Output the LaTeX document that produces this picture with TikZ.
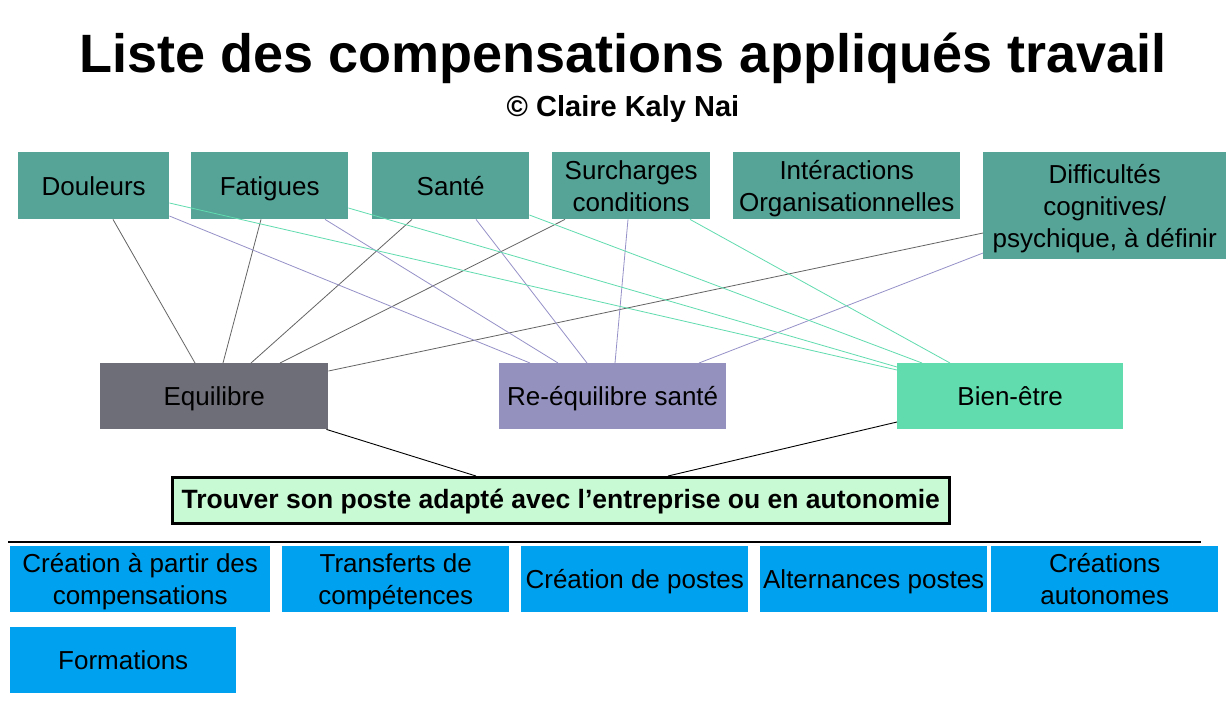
\documentclass[tikz,border=0pt]{standalone}
\usepackage{fontspec}
\setmainfont{Liberation Sans}
\usetikzlibrary{calc}
\definecolor{topc}{RGB}{86,163,152}
\definecolor{equc}{RGB}{110,110,120}
\definecolor{reqc}{RGB}{148,145,190}
\definecolor{biec}{RGB}{96,220,175}
\definecolor{troc}{RGB}{200,250,212}
\definecolor{bluc}{RGB}{0,162,240}
\definecolor{grayl}{RGB}{100,100,100}
\definecolor{purl}{RGB}{150,145,200}
\definecolor{greenl}{RGB}{96,220,175}
\newcommand{\sline}{\rule[-6pt]{0pt}{31pt}}
\newcommand{\tline}{\rule[-7pt]{0pt}{30pt}}
\begin{document}
\begin{tikzpicture}[x=1pt,y=-1pt,
  box/.style={anchor=north west, inner sep=0pt, align=center, text=black,
    font=\fontsize{26}{32}\selectfont},
  topbox/.style={box, fill=topc, minimum height=67pt},
  midbox/.style={box, minimum width=227pt, minimum height=66pt},
  blubox/.style={box, fill=bluc, minimum height=66pt},
  gl/.style={draw=grayl, line width=0.8pt},
  pl/.style={draw=purl, line width=0.8pt},
  ml/.style={draw=greenl, line width=0.8pt},
  bl/.style={draw=black, line width=0.9pt}]
\useasboundingbox (0,0) rectangle (1230,702);
\fill[white] (0,0) rectangle (1230,702);

% titles
\node[anchor=base, font=\fontsize{54}{60}\selectfont\bfseries] (title) at (623,72) {Liste des compensations appliqués travail};
\node[anchor=base, font=\fontsize{29}{32}\selectfont\bfseries] (sub) at (623,116) {© Claire Kaly Nai};

% top boxes
\node[topbox, minimum width=151pt] (dou) at (18,152) {\sline Douleurs};
\node[topbox, minimum width=157pt] (fat) at (191,152) {\sline Fatigues};
\node[topbox, minimum width=157pt] (san) at (372,152) {\sline Santé};
\node[topbox, minimum width=158pt] (sur) at (552,152) {\sline Surcharges\\\sline conditions};
\node[topbox, minimum width=227pt] (int) at (733,152) {\sline Intéractions\\\sline Organisationnelles};
\node[topbox, minimum width=243pt, minimum height=107pt] (dif) at (983,152) {\sline Difficultés\\\sline cognitives/\\\sline psychique, à définir};

% middle boxes
\node[midbox, fill=equc, minimum width=228pt] (equ) at (100,363) {\sline Equilibre};
\node[midbox, fill=reqc] (req) at (499,363) {\sline Re-équilibre santé};
\node[midbox, fill=biec, minimum width=226pt] (bie) at (897,363) {\sline Bien-être};

% central box
\node[anchor=north west, inner sep=0pt, minimum width=777pt, minimum height=46pt,
  fill=troc, draw=black, line width=2.5pt,
  font=\fontsize{26.5}{30}\selectfont\bfseries] (tro) at (171,476)
  {\tline Trouver son poste adapté avec l’entreprise ou en autonomie};

% separator
\coordinate (sepL) at (8,542);
\coordinate (sepR) at (1201,542);
\draw[line width=2.6pt, black] (sepL) -- (sepR);

% bottom boxes
\node[blubox, minimum width=260pt] (b1) at (10,546) {\sline Création à partir des\\\sline compensations};
\node[blubox, minimum width=227pt] (b2) at (282,546) {\sline Transferts de\\\sline compétences};
\node[blubox, minimum width=227pt] (b3) at (521,546) {\sline Création de postes};
\node[blubox, minimum width=227pt] (b4) at (760,546) {\sline Alternances postes};
\node[blubox, minimum width=227pt] (b5) at (991,546) {\sline Créations\\\sline autonomes};
\node[blubox, minimum width=226pt] (b6) at (10,627) {\sline Formations};

% gray connectors to Equilibre
\draw[gl] ([xshift=95pt]dou.south west) -- ([xshift=95pt]equ.north west);
\draw[gl] ([xshift=70pt]fat.south west) -- ([xshift=123pt]equ.north west);
\draw[gl] ([xshift=40pt]san.south west) -- ([xshift=151pt]equ.north west);
\draw[gl] ([xshift=13pt]sur.south west) -- ([xshift=180pt]equ.north west);
\draw[gl] ([yshift=-81pt]dif.north west) -- ([yshift=-8pt]equ.north east);

% purple connectors to Re-equilibre
\draw[pl] ([yshift=-64pt]dou.north east) -- ([xshift=31pt]req.north west);
\draw[pl] ([xshift=134pt]fat.south west) -- ([xshift=59pt]req.north west);
\draw[pl] ([xshift=104pt]san.south west) -- ([xshift=88pt]req.north west);
\draw[pl] ([xshift=76pt]sur.south west) -- ([xshift=116pt]req.north west);
\draw[pl] ([yshift=-101pt]dif.north west) -- ([xshift=200pt]req.north west);

% green connectors to Bien-etre
\draw[ml] ([yshift=-51pt]dou.north east) -- ([yshift=-7pt]bie.north west);
\draw[ml] ([yshift=-56pt]fat.north east) -- ([yshift=-4pt]bie.north west);
\draw[ml] ([yshift=-63pt]san.north east) -- ([xshift=25pt]bie.north west);
\draw[ml] ([xshift=138pt]sur.south west) -- ([xshift=53pt]bie.north west);

% black connectors to central box
\draw[bl] ([xshift=-2pt]equ.south east) -- ([xshift=305pt]tro.north west);
\draw[bl] ([yshift=-59pt]bie.north west) -- ([xshift=497pt]tro.north west);
\end{tikzpicture}
\end{document}
